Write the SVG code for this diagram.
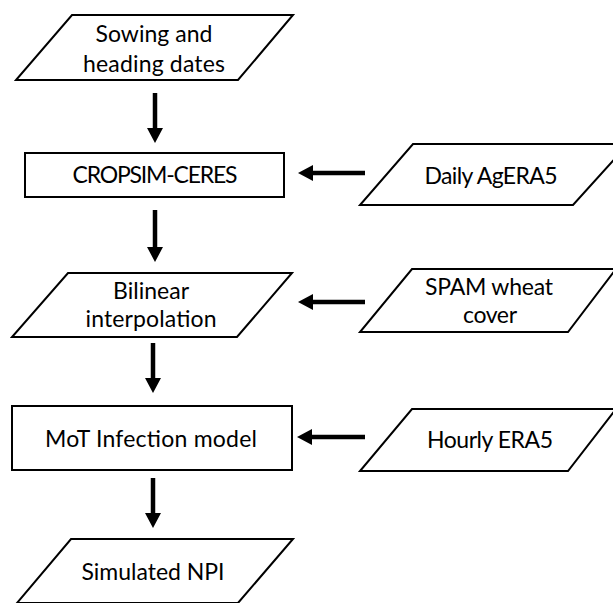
<svg xmlns="http://www.w3.org/2000/svg" width="613" height="603" viewBox="0 0 613 603">
<style>
.shape{fill:#fff;stroke:#000;stroke-width:2}
.lbl{font-family:Lato,"Liberation Sans",sans-serif;font-size:23px;fill:#000;text-anchor:middle}
.conn{stroke:#000;stroke-width:4.5;fill:none}
</style>
<defs>
<marker id="ah" viewBox="0 0 15 16" refX="0" refY="8" markerWidth="15" markerHeight="16" markerUnits="userSpaceOnUse" orient="auto">
<path d="M0,0 L15,8 L0,16 z" fill="#000"/>
</marker>
</defs>
<rect width="613" height="603" fill="#fff"/>
<g id="sowing">
<polygon class="shape" points="72,15 293,15 238,80 16,80"/>
<text class="lbl" x="154" y="42" textLength="117">Sowing and</text>
<text class="lbl" x="154" y="72" textLength="142">heading dates</text>
</g>
<g id="cropsim">
<rect class="shape" x="25" y="153" width="259" height="44"/>
<text class="lbl" x="155" y="183" textLength="165">CROPSIM-CERES</text>
</g>
<g id="bilinear">
<polygon class="shape" points="68,273 292,273 237,337 12,337"/>
<text class="lbl" x="151" y="299" textLength="76">Bilinear</text>
<text class="lbl" x="151" y="327" textLength="131">interpolation</text>
</g>
<g id="mot">
<rect class="shape" x="12" y="406" width="280" height="64"/>
<text class="lbl" x="151" y="447" textLength="212">MoT Infection model</text>
</g>
<g id="npi">
<polygon class="shape" points="71,539 293,539 238,603 17,603"/>
<text class="lbl" x="153" y="580" textLength="143">Simulated NPI</text>
</g>
<g id="daily">
<polygon class="shape" points="413,144 628,144 573,205 360,205"/>
<text class="lbl" x="491" y="184" textLength="133">Daily AgERA5</text>
</g>
<g id="spam">
<polygon class="shape" points="412,269 616,269 568,332 360,332"/>
<text class="lbl" x="489" y="295" textLength="128">SPAM wheat</text>
<text class="lbl" x="490" y="323" textLength="54">cover</text>
</g>
<g id="hourly">
<polygon class="shape" points="412,409 616,409 568,471 360,471"/>
<text class="lbl" x="490" y="448" textLength="126">Hourly ERA5</text>
</g>
<g id="connectors">
<line class="conn" x1="155" y1="93" x2="155" y2="128" marker-end="url(#ah)"/>
<line class="conn" x1="155" y1="210" x2="155" y2="247" marker-end="url(#ah)"/>
<line class="conn" x1="153" y1="343" x2="153" y2="378" marker-end="url(#ah)"/>
<line class="conn" x1="153" y1="478" x2="153" y2="513" marker-end="url(#ah)"/>
<line class="conn" x1="365" y1="173" x2="313" y2="173" marker-end="url(#ah)"/>
<line class="conn" x1="365" y1="302" x2="313" y2="302" marker-end="url(#ah)"/>
<line class="conn" x1="365" y1="437" x2="312" y2="437" marker-end="url(#ah)"/>
</g>
</svg>
